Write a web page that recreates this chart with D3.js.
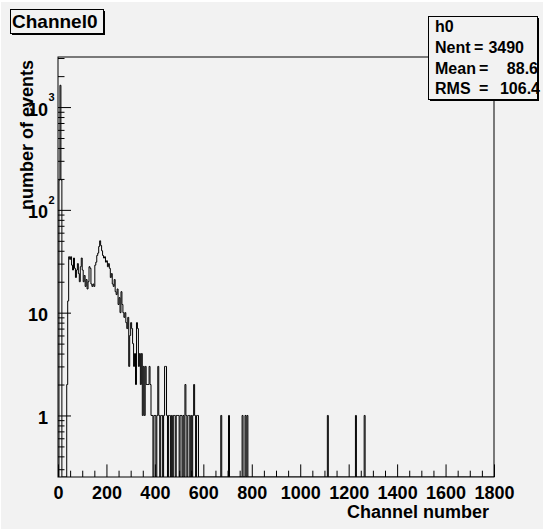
<!DOCTYPE html>
<html><head><meta charset="utf-8">
<script src="https://cdn.jsdelivr.net/npm/d3@7"></script>
<style>
body{margin:0;background:#ffffff}
svg{display:block}
text{font-family:"Liberation Sans",Arial,Helvetica,sans-serif;font-weight:bold;fill:#000}
</style>
</head><body>
<svg id="c" width="543" height="529"></svg>
<script>
// ---- data ----
const binWidth = 4;          // channels per bin
const xMax = 1800;
// counts per bin starting at channel 0
const counts = [
  0,195,1630,195,0,0,0,0,0,2,
  13,35,33,35,29,26,34,27,22,26,
  30,24,20,28,34,26,20,23,18,21,
  17,20,28,27,19,18,19,18,29,31,
  36,38,44,50,45,40,36,34,35,31,
  32,28,30,27,22,24,19,18,21,16,
  15,17,12,14,10,16,12,10,9,10,
  8,7,9,3,6,8,7,5,3,4,
  2,8,7,3,4,2,4,1,3,1,
  3,2,2,2,3,2,1,1,0,1,
  1,0,1,3,1,0,1,1,0,1,
  3,3,1,0,1,1,0,1,0,1,
  1,0,1,1,1,0,1,1,0,1,
  0,2,1,0,1,1,0,1,0,1,
  2,1,0,1,1,0
];
const tailChannels = [672, 704, 760, 772, 780, 1112, 1228, 1264];
const tailCounts   = [1, 1, 1, 1, 1, 1, 1, 1];
const xTickValues = [0,200,400,600,800,1000,1200,1400,1600,1800];
const yDecades = [1, 10, 100, 1000];
const yDecadeLabels = [["1",""],["10",""],["10","2"],["10","3"]];
const titleText = "Channel0";
const xTitle = "Channel number";
const yTitle = "number of events";
const statsName = "h0";
const statsKeys = ["Nent", "Mean", "RMS"];
const statsVals = ["3490", "88.6", "106.4"];

// ---- build full histogram ----
const nBins = xMax / binWidth;
const bins = new Array(nBins).fill(0);
counts.forEach((c, i) => bins[i] = c);
tailChannels.forEach((ch, k) => bins[Math.floor(ch / binWidth)] += tailCounts[k]);

const svg = d3.select("#c");
const W = 543, H = 529;
const bg = "#f2f2f2";
svg.append("rect").attr("x",1).attr("y",2).attr("width",W).attr("height",H).attr("fill",bg);

const L = 58, R = 494, T = 57, B = 477;
const x = d3.scaleLinear().domain([0, xMax]).range([L, R]);
const y = d3.scaleLog().domain([0.252, 3070]).range([B, T]);

// frame
svg.append("rect").attr("x",L).attr("y",T).attr("width",R-L).attr("height",B-T)
  .attr("fill",bg).attr("stroke","#000").attr("stroke-width",1);

svg.append("clipPath").attr("id","clip").append("rect")
  .attr("x",L).attr("y",T).attr("width",R-L).attr("height",B-T);

// histogram step line
const pts = [[x(0), B]];
bins.forEach((c, i) => {
  const lv = c > 0 ? y(c) : B;
  pts.push([x(i*binWidth), lv]);
  pts.push([x((i+1)*binWidth), lv]);
});
pts.push([x(xMax), B]);
svg.append("path").attr("clip-path","url(#clip)")
  .attr("d", d3.line()(pts)).attr("fill","none").attr("stroke","#000").attr("stroke-width",1);

// x axis ticks (pointing inward)
const xMinor = d3.range(0, xMax + 1, 50).filter(v => v % 200 !== 0);
const gx = svg.append("g").attr("transform",`translate(0,${B})`);
gx.call(d3.axisBottom(x).tickValues(xMinor).tickSize(-6.3).tickFormat(""));
gx.call(g => g.select(".domain").remove());
const gx2 = svg.append("g").attr("transform",`translate(0,${B})`);
gx2.call(d3.axisBottom(x).tickValues(xTickValues).tickSize(-12.6).tickPadding(9.5).tickFormat(d3.format("d")));
gx2.select(".domain").remove();
gx2.selectAll("text").style("font-size","18px").attr("fill","#000");
svg.selectAll(".tick line").attr("stroke","#000");

// y axis ticks
const yMinor = [];
[0.1,1,10,100,1000].forEach(d => { for (let m=2;m<=9;m++){ const v=d*m; if (v>=0.252 && v<=3070) yMinor.push(v);} });
const gy = svg.append("g").attr("transform",`translate(${L},0)`);
gy.call(d3.axisLeft(y).tickValues(yMinor).tickSize(-6.5).tickFormat(""));
gy.select(".domain").remove();
const gy2 = svg.append("g").attr("transform",`translate(${L},0)`);
gy2.call(d3.axisLeft(y).tickValues(yDecades).tickSize(-13).tickFormat(""));
gy2.select(".domain").remove();
svg.selectAll(".tick line").attr("stroke","#000");

// y labels
yDecades.forEach((d, i) => {
  const [base, exp] = yDecadeLabels[i];
  svg.append("text").attr("x",48).attr("y",y(d)+8.5).attr("text-anchor","end")
    .style("font-size","18px").text(base);
  if (exp) svg.append("text").attr("x",48.5).attr("y",y(d)-6)
    .style("font-size","11px").text(exp);
});

// axis titles
svg.append("text").attr("x",489).attr("y",518).attr("text-anchor","end")
  .style("font-size","18px").text(xTitle);
svg.append("text").attr("transform","translate(33,60) rotate(-90)").attr("text-anchor","end")
  .style("font-size","18px").text(yTitle);

// title box
svg.append("rect").attr("x",12).attr("y",11).attr("width",93).attr("height",24).attr("fill","#000");
svg.append("rect").attr("x",10.5).attr("y",9.5).attr("width",93).attr("height",24)
  .attr("fill",bg).attr("stroke","#000").attr("stroke-width",1);
svg.append("text").attr("x",12).attr("y",28.3).style("font-size","19px").text(titleText);

// stats box
svg.append("rect").attr("x",430).attr("y",18).attr("width",109).attr("height",83).attr("fill","#000");
svg.append("rect").attr("x",428.5).attr("y",16.5).attr("width",109).attr("height",83)
  .attr("fill",bg).attr("stroke","#000").attr("stroke-width",1);
svg.append("text").attr("x",435).attr("y",32.3).style("font-size","16px").text(statsName);
const rowY = [53.3, 74, 94.3];
const eqX = [474, 479, 479];
const valEnd = [524, 538, 540];
statsKeys.forEach((k, i) => {
  svg.append("text").attr("x",435).attr("y",rowY[i]).style("font-size","16px").text(k);
  svg.append("text").attr("x",eqX[i]).attr("y",rowY[i]).style("font-size","16px").text("=");
  svg.append("text").attr("x",valEnd[i]).attr("y",rowY[i]).attr("text-anchor","end").style("font-size","16px").text(statsVals[i]);
});
</script>
</body></html>
